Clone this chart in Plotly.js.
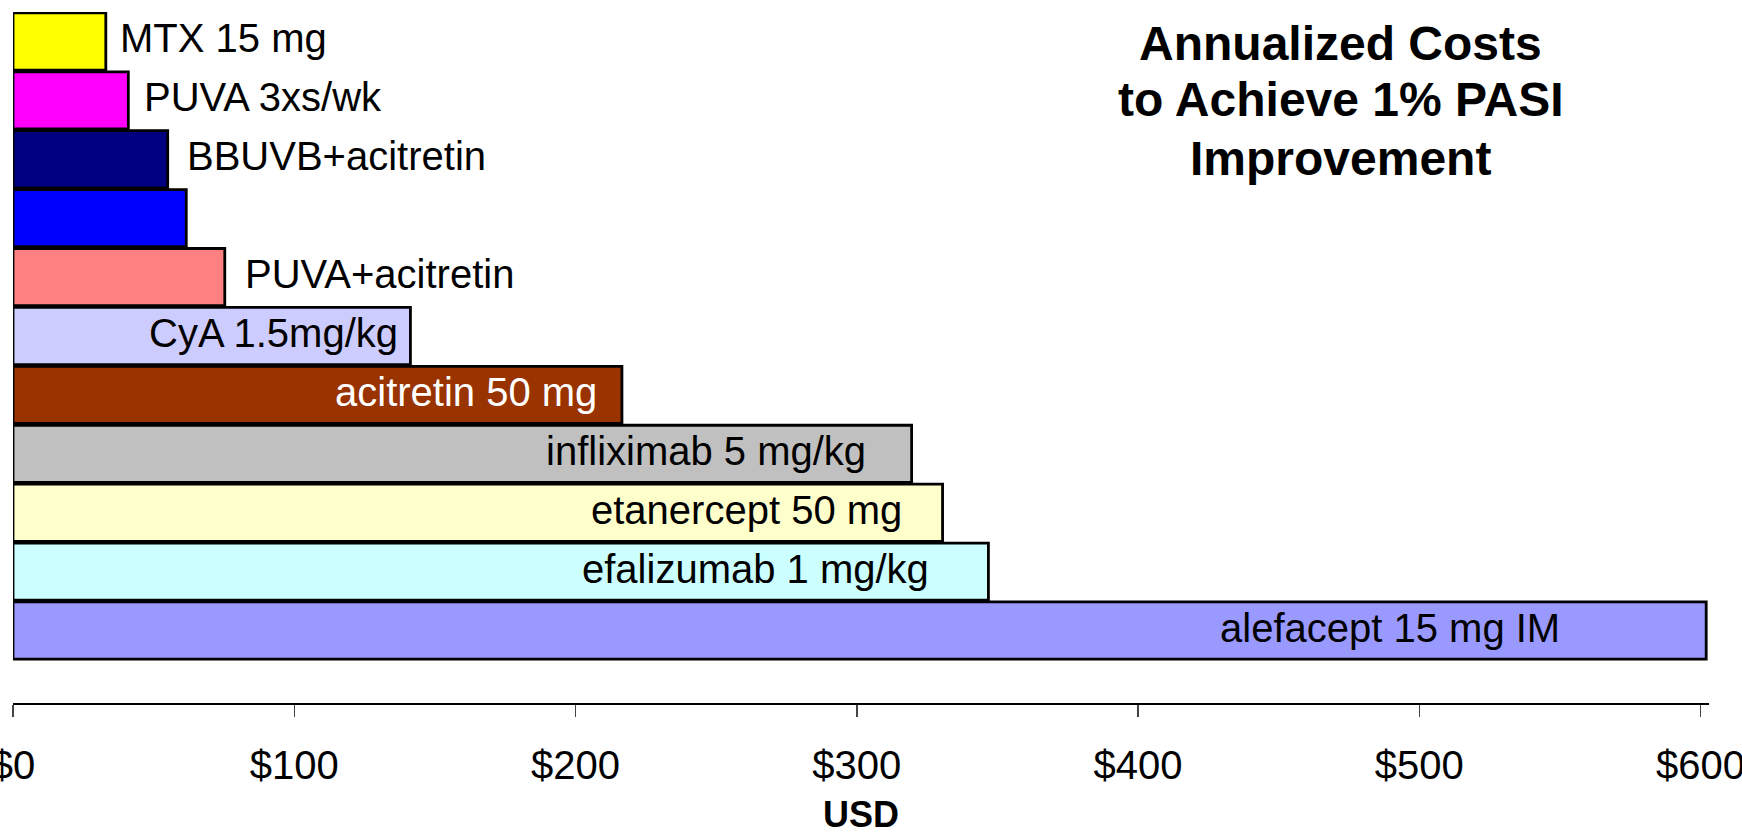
<!DOCTYPE html>
<html>
<head>
<meta charset="utf-8">
<script src="https://cdn.plot.ly/plotly-3.0.1.min.js"></script>
<style>
  html, body { margin: 0; padding: 0; background: #ffffff; }
  #chart { width: 1742px; height: 835px; }
</style>
</head>
<body>
<div id="chart"></div>
<script>
// ---- data ----
const treatments = [
  'MTX 15 mg',
  'PUVA 3xs/wk',
  'BBUVB+acitretin',
  '',
  'PUVA+acitretin',
  'CyA 1.5mg/kg',
  'acitretin 50 mg',
  'infliximab 5 mg/kg',
  'etanercept 50 mg',
  'efalizumab 1 mg/kg',
  'alefacept 15 mg IM'
];
const annualCostPerPasiPoint = [33, 41, 55, 61.6, 75.3, 141.3, 216.5, 319.5, 330.5, 346.8, 602];
const tickValues = [0, 100, 200, 300, 400, 500, 600];
const titleLines = ['Annualized Costs', 'to Achieve 1% PASI', 'Improvement'];
const axisTitle = 'USD';

// ---- styles ----
const barColors = ['#FFFF00', '#FF00FF', '#000080', '#0000FF', '#FF8080', '#CCCCFF',
                   '#993300', '#C0C0C0', '#FFFFCC', '#CCFFFF', '#9999FF'];
const labelColors = ['#000', '#000', '#000', '#000', '#000', '#000',
                     '#FFF', '#000', '#000', '#000', '#000'];
// label pixel nudges from the bar end (positive = outside to the right, negative = inside)
const labelNudgePx = [12, 14, 17, 0, 18, -10, -23, -44, -39, -57, -144];
const FONT = 'Liberation Sans, Arial, Helvetica, sans-serif';

const rows = treatments.map((_, i) => i);

const trace = {
  type: 'bar',
  orientation: 'h',
  x: annualCostPerPasiPoint,
  y: rows,
  marker: { color: barColors, line: { color: '#000000', width: 2.8 } },
  hoverinfo: 'x+text',
  hovertext: treatments,
  showlegend: false
};

const labelAnnotations = treatments.map((t, i) => ({
  x: annualCostPerPasiPoint[i],
  y: rows[i],
  xref: 'x', yref: 'y',
  text: t,
  showarrow: false,
  xanchor: labelNudgePx[i] >= 0 ? 'left' : 'right',
  yanchor: 'middle',
  xshift: labelNudgePx[i],
  yshift: 3,
  font: { family: FONT, size: 40, color: labelColors[i] }
}));

const titleY = [0.9544, 0.8727, 0.7880];
const titleAnnotations = titleLines.map((t, i) => ({
  x: 0.783, y: titleY[i],
  xref: 'paper', yref: 'paper',
  text: t,
  showarrow: false,
  xanchor: 'center', yanchor: 'middle',
  font: { family: FONT, size: 48, color: '#000', weight: 'bold' }
}));

const layout = {
  width: 1742,
  height: 835,
  margin: { l: 13, r: 33, t: 12, b: 132, pad: 0 },
  paper_bgcolor: '#ffffff',
  plot_bgcolor: '#ffffff',
  bargap: 0.03,
  font: { family: FONT, color: '#000' },
  xaxis: {
    range: [0, 603],
    tickvals: tickValues,
    ticktext: tickValues.map(v => '$' + v),
    ticks: 'outside',
    ticklen: 12,
    tickwidth: 1.5,
    tickcolor: '#444444',
    showline: true,
    linecolor: '#000000',
    linewidth: 1.5,
    showgrid: false,
    zeroline: false,
    ticklabeloverflow: 'allow',
    ticklabelstandoff: 14,
    tickfont: { family: FONT, size: 40, color: '#000' },
    title: { text: axisTitle, font: { family: FONT, size: 36, color: '#000', weight: 'bold' }, standoff: 21 }
  },
  yaxis: {
    range: [11.23, -0.5],
    showticklabels: false,
    ticks: '',
    showgrid: false,
    zeroline: false,
    showline: false
  },
  annotations: labelAnnotations.concat(titleAnnotations)
};

Plotly.newPlot('chart', [trace], layout, { displayModeBar: false, staticPlot: true });
</script>
</body>
</html>
